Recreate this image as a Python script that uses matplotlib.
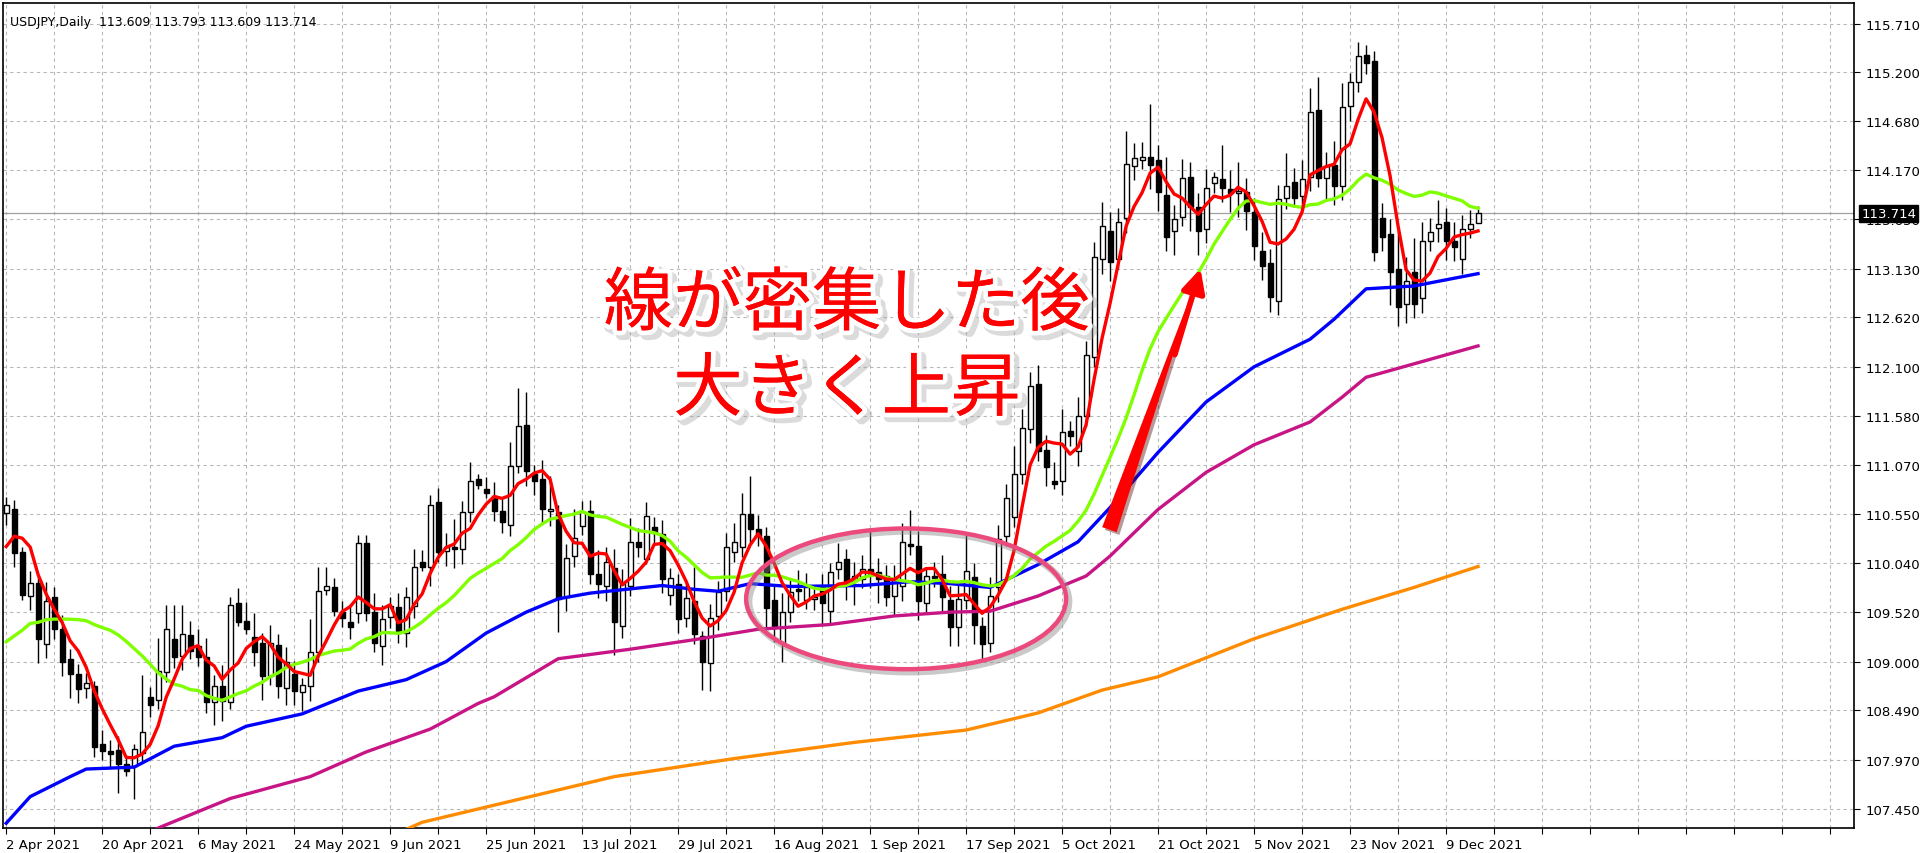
import numpy as np
import pandas as pd
import matplotlib
matplotlib.use("Agg")
import matplotlib.pyplot as plt
import matplotlib.patches as mpatches
import matplotlib.patheffects as pe
import matplotlib.transforms as mtransforms

# ── Data ────────────────────────────────────────────────────────────────────
opens = [110.56, 110.60, 110.15, 109.69, 109.83, 109.19, 109.68, 109.34, 109.03, 108.87,
         108.72, 108.74, 108.13, 108.06, 108.07, 107.92, 107.90, 108.04, 108.63, 108.60,
         108.89, 109.24, 109.06, 109.28, 109.16, 109.05, 108.58, 108.74, 108.58, 109.62,
         109.43, 109.26, 109.20, 108.85, 109.17, 108.72, 108.87, 108.68, 108.74, 109.10,
         109.75, 109.78, 109.52, 109.42, 109.51, 110.25, 109.52, 109.16, 109.47, 109.57,
         109.30, 109.58, 110.05, 110.00, 110.68, 110.16, 110.20, 110.18, 110.57, 110.92,
         110.82, 110.74, 110.58, 110.44, 111.06, 111.49, 110.97, 110.92, 110.58, 110.57,
         109.68, 110.11, 110.43, 110.58, 109.92, 109.79, 109.98, 109.37, 109.79, 110.26,
         110.08, 110.42, 110.34, 109.70, 109.82, 109.46, 109.64, 109.27, 108.99, 109.48,
         109.74, 110.15, 110.20, 110.55, 110.39, 110.32, 109.65, 109.20, 109.52, 109.76,
         109.65, 109.66, 109.80, 109.53, 109.97, 110.08, 109.85, 109.87, 109.97, 109.94,
         109.90, 109.69, 109.79, 110.24, 110.22, 109.62, 109.90, 109.92, 109.65, 109.36,
         109.65, 109.89, 109.37, 109.20, 109.78, 110.32, 110.52, 110.97, 111.45, 111.92,
         111.23, 110.90, 110.90, 111.43, 111.21, 111.58, 112.20, 113.23, 113.53, 113.23,
         113.66, 114.21, 114.28, 114.31, 114.28, 113.91, 113.53, 113.68, 114.10, 113.78,
         113.55, 114.03, 114.08, 113.97, 113.93, 113.94, 113.73, 113.32, 113.19, 112.79,
         113.88, 114.04, 113.90, 114.10, 114.80, 114.09, 114.22, 114.00, 114.84, 115.09,
         115.38, 115.32, 113.67, 113.50, 113.13, 112.76, 113.10, 112.82, 113.42, 113.56,
         113.62, 113.42, 113.23, 113.55, 113.609]
closes = [110.65, 110.14, 109.70, 109.83, 109.24, 109.64, 109.34, 109.00, 108.87, 108.71,
          108.78, 108.10, 108.06, 108.03, 107.92, 107.85, 108.08, 108.26, 108.54, 108.90,
          109.34, 109.05, 109.29, 109.11, 109.05, 108.58, 108.74, 108.59, 109.60, 109.42,
          109.34, 109.10, 108.85, 109.20, 108.74, 109.00, 108.69, 108.75, 109.10, 109.74,
          109.80, 109.53, 109.46, 109.36, 110.25, 109.51, 109.20, 109.45, 109.58, 109.30,
          109.68, 110.00, 110.00, 110.65, 110.15, 110.20, 110.18, 110.57, 110.90, 110.86,
          110.77, 110.58, 110.47, 111.06, 111.48, 111.00, 110.90, 110.60, 110.60, 109.66,
          110.09, 110.30, 110.57, 109.92, 109.82, 110.05, 109.42, 109.82, 110.26, 110.20,
          110.53, 110.35, 109.87, 109.88, 109.45, 109.67, 109.29, 109.00, 109.46, 109.73,
          110.20, 110.26, 110.55, 110.39, 110.32, 109.56, 109.36, 109.52, 109.73, 109.74,
          109.78, 109.68, 109.62, 109.94, 110.05, 109.85, 109.90, 109.97, 109.92, 109.87,
          109.68, 109.87, 110.26, 110.22, 109.64, 109.90, 109.88, 109.68, 109.36, 109.66,
          109.95, 109.39, 109.18, 109.69, 110.29, 110.72, 110.97, 111.46, 111.90, 111.21,
          111.05, 110.87, 111.41, 111.37, 111.58, 112.22, 113.26, 113.58, 113.20, 113.62,
          114.23, 114.30, 114.31, 114.22, 113.94, 113.47, 113.65, 114.09, 113.78, 113.53,
          113.98, 114.10, 113.98, 113.93, 113.95, 113.74, 113.37, 113.16, 112.83, 113.86,
          114.00, 113.88, 114.07, 114.78, 114.09, 114.21, 114.00, 114.83, 115.09, 115.37,
          115.30, 113.31, 113.47, 113.10, 112.73, 113.00, 112.76, 113.42, 113.52, 113.60,
          113.42, 113.36, 113.55, 113.60, 113.714]
wick_up = [.08, .10, .05, .12, .08, .20, .10, .15, .10, .10,
           .10, .06, .15, .12, .15, .10, .05, .60, .10, .35,
           .25, .35, .30, .15, .18, .20, .12, .22, .08, .15,
           .20, .25, .10, .18, .12, .15, .14, .08, .35, .25,
           .20, .10, .12, .15, .08, .08, .20, .15, .10, .15,
           .10, .18, .12, .10, .15, .15, .30, .12, .20, .05,
           .12, .15, .15, .25, .40, .35, .10, .20, .35, .08,
           .15, .30, .12, .12, .25, .15, .20, .15, .25, .15,
           .15, .10, .15, .10, .10, .15, .35, .05, .15, .12,
           .15, .20, .22, .40, .15, .10, .15, .20, .15, .20,
           .15, .10, .12, .10, .20, .10, .15, .15, .40, .15,
           .12, .15, .20, .35, .15, .10, .15, .20, .15, .15,
           .40, .15, .10, .20, .15, .15, .30, .20, .15, .20,
           .15, .20, .25, .10, .20, .15, .15, .25, .20, .15,
           .35, .15, .15, .55, .15, .40, .15, .20, .15, .15,
           .20, .05, .35, .20, .30, .15, .15, .20, .15, .15,
           .35, .15, .20, .25, .35, .15, .25, .25, .10, .15,
           .10, .10, .15, .15, .40, .25, .35, .20, .15, .25,
           .15, .20, .15, .15, .08]
wick_dn = [.12, .15, .05, .15, .25, .15, .10, .15, .25, .15,
           .10, .10, .10, .15, .30, .05, .35, .10, .12, .10,
           .10, .12, .15, .08, .10, .12, .25, .22, .08, .05,
           .05, .15, .25, .10, .12, .18, .15, .20, .15, .10,
           .05, .05, .10, .12, .10, .08, .10, .20, .12, .10,
           .15, .12, .05, .20, .10, .15, .20, .15, .10, .05,
           .05, .10, .12, .12, .08, .15, .15, .15, .15, .35,
           .15, .12, .10, .10, .15, .15, .35, .12, .10, .10,
           .05, .10, .15, .10, .15, .10, .10, .30, .30, .15,
           .10, .10, .10, .15, .10, .20, .15, .20, .10, .10,
           .10, .12, .25, .15, .10, .20, .25, .10, .15, .25,
           .10, .20, .15, .10, .20, .10, .10, .15, .20, .20,
           .10, .20, .15, .10, .15, .10, .10, .10, .15, .10,
           .20, .05, .15, .10, .15, .10, .10, .15, .20, .10,
           .15, .15, .10, .25, .20, .15, .25, .10, .25, .25,
           .15, .10, .15, .20, .25, .20, .15, .15, .15, .15,
           .12, .10, .15, .15, .10, .25, .20, .15, .15, .10,
           .12, .10, .15, .35, .20, .20, .15, .15, .10, .15,
           .20, .15, .15, .10, .00]
# closes before 2 Apr, needed for the 20-day average at the left edge
pre_closes = [108.9, 108.5, 108.4, 109.0, 109.1, 109.2, 109.0, 108.9, 108.8, 109.0,
              108.9, 108.7, 108.6, 108.9, 109.2, 109.6, 109.8, 110.3, 110.7]

# long moving averages read at sample points (candle index, price)
ma50_idx = [0, 3, 8, 10, 16, 21, 27, 30, 37, 44, 50, 55, 60, 65, 69, 73, 82, 86, 89, 93,
            98, 107, 113, 118, 123, 129, 134, 138, 144, 150, 156, 163, 166, 170, 176, 184]
ma50_val = [107.30, 107.58, 107.79, 107.87, 107.89, 108.11, 108.20, 108.32, 108.45, 108.69,
            108.81, 109.00, 109.30, 109.52, 109.66, 109.72, 109.80, 109.76, 109.74, 109.82,
            109.79, 109.80, 109.84, 109.82, 109.78, 110.02, 110.26, 110.62, 111.20, 111.73,
            112.10, 112.39, 112.60, 112.92, 112.95, 113.08]
ma100_idx = [12, 19, 28, 38, 45, 53, 59, 61, 69, 78, 86, 94, 103, 111, 118, 123, 129,
             135, 138, 144, 150, 156, 163, 167, 170, 184]
ma100_val = [106.95, 107.25, 107.56, 107.79, 108.05, 108.29, 108.56, 108.63, 109.03, 109.13,
             109.23, 109.34, 109.39, 109.48, 109.52, 109.53, 109.69, 109.90, 110.11, 110.60,
             110.99, 111.28, 111.52, 111.78, 111.99, 112.32]
ma200_idx = [45, 52, 60, 76, 91, 106, 120, 129, 137, 144, 156, 167, 176, 184]
ma200_val = [107.05, 107.31, 107.47, 107.79, 107.98, 108.15, 108.28, 108.46, 108.70, 108.84,
             109.24, 109.55, 109.78, 110.00]

date_labels = ["2 Apr 2021", "20 Apr 2021", "6 May 2021", "24 May 2021", "9 Jun 2021",
               "25 Jun 2021", "13 Jul 2021", "29 Jul 2021", "16 Aug 2021", "1 Sep 2021",
               "17 Sep 2021", "5 Oct 2021", "21 Oct 2021", "5 Nov 2021", "23 Nov 2021",
               "9 Dec 2021"]
price_ticks = [115.710, 115.200, 114.680, 114.170, 113.650, 113.130, 112.620, 112.100,
               111.580, 111.070, 110.550, 110.040, 109.520, 109.000, 108.490, 107.970, 107.450]
last_price = 113.714

# ── Derived ──────────────────────────────────────────────────────────────────
o = np.array(opens)
c = np.array(closes)
hi = np.maximum(o, c) + np.array(wick_up)
lo = np.minimum(o, c) - np.array(wick_dn)
x = np.arange(len(c))
allc = pd.Series(pre_closes + closes)
ma5 = allc.rolling(5).mean().values[len(pre_closes):]
ma20 = allc.rolling(20).mean().values[len(pre_closes):]

# ── Figure ───────────────────────────────────────────────────────────────────
W, H = 1920, 854
fig = plt.figure(figsize=(W / 100, H / 100), dpi=100, facecolor="white")
ax = fig.add_axes([3 / W, 25 / H, 1851 / W, 825 / H])
ax.set_xlim(-0.4, 231)
ax.set_ylim(107.25, 115.926)

GRID = "#b8b8b8"
ax.set_yticks(price_ticks)
ax.set_xticks(np.arange(0, 231, 6), minor=False)
ax.grid(True, color=GRID, linestyle=(0, (3, 3)), linewidth=0.8)
ax.set_axisbelow(True)
ax.yaxis.tick_right()
ax.set_yticklabels([f"{t:.3f}" for t in price_ticks])
ax.set_xticklabels([date_labels[k // 2] if k % 2 == 0 and k // 2 < len(date_labels) else ""
                    for k in range(len(ax.get_xticks()))])
for lab in ax.get_xticklabels():
    lab.set_horizontalalignment("left")
ax.tick_params(axis="y", length=4, labelsize=9.5, pad=4, colors="black")
ax.tick_params(axis="x", length=4, labelsize=9.5, pad=3)
for s in ax.spines.values():
    s.set_linewidth(1.2)
    s.set_color("black")

# candles
bw = 0.62
for i in x:
    ax.vlines(i, lo[i], hi[i], color="black", linewidth=1.0, zorder=3)
    bull = c[i] >= o[i]
    bottom = min(o[i], c[i])
    h = max(abs(c[i] - o[i]), 0.012)
    ax.add_patch(mpatches.Rectangle((i - bw / 2, bottom), bw, h,
                                    facecolor="white" if bull else "black",
                                    edgecolor="black", linewidth=1.0, zorder=4))

# moving averages
ax.plot(ma200_idx, ma200_val, color="#ff8c00", linewidth=2.4, zorder=5)
ax.plot(ma100_idx, ma100_val, color="#c71585", linewidth=2.4, zorder=5)
ax.plot(ma50_idx, ma50_val, color="#0000ff", linewidth=2.4, zorder=5)
ax.plot(x, ma20, color="#80ff00", linewidth=2.4, zorder=6)
ax.plot(x, ma5, color="#ff0000", linewidth=2.4, zorder=7)

# last price line and label
ax.axhline(last_price, color="#a0a0a0", linewidth=0.9, zorder=2)
trans = mtransforms.blended_transform_factory(ax.transAxes, ax.transData)
ax.text(1.004, last_price, f"{last_price:.3f}", transform=trans, fontsize=9.5,
        color="white", va="center", ha="left", zorder=10, clip_on=False,
        bbox=dict(boxstyle="square,pad=0.15", facecolor="black", edgecolor="black"))

# header
ax.text(0.004, 0.985, "USDJPY,Daily  113.609 113.793 113.609 113.714", transform=ax.transAxes,
        fontsize=9, va="top", ha="left", color="black")

# ── Annotations ──────────────────────────────────────────────────────────────
line_shadow = [pe.SimpleLineShadow(offset=(2, -2), shadow_color="#888888", alpha=0.45,
                                   linewidth=5), pe.Normal()]
ell = mpatches.Ellipse((112.5, 109.66), 40, 1.48, fill=False, edgecolor="#ec4a7c",
                       linewidth=3.2, zorder=8)
ell.set_path_effects(line_shadow)
ax.add_patch(ell)

arr = ax.annotate("", xy=(149.2, 113.1), xytext=(137.8, 110.36),
                  arrowprops=dict(arrowstyle="wedge,tail_width=1.1,shrink_factor=0.5",
                                  color="#ff0000", linewidth=0), zorder=8)
arr.arrow_patch.set_path_effects([pe.SimplePatchShadow(offset=(2, -2), alpha=0.4), pe.Normal()])
ax.annotate("", xy=(149.4, 113.16), xytext=(146.0, 112.2),
            arrowprops=dict(arrowstyle="-|>,head_width=0.7,head_length=1.4",
                            color="#ff0000", linewidth=4), zorder=8)

t = ax.text(105.1, 112.3, "線が密集した後\n大きく上昇", fontsize=50, color="#ff0000",
            ha="center", va="center", linespacing=1.25, zorder=9,
            family=["Noto Sans CJK JP", "DejaVu Sans"])
t.set_path_effects([pe.SimpleLineShadow(offset=(3, -3), shadow_color="#999999", alpha=0.35,
                                        linewidth=8),
                    pe.withStroke(linewidth=7, foreground="white"), pe.Normal()])

fig.savefig("out.png", dpi=100, facecolor="white")
